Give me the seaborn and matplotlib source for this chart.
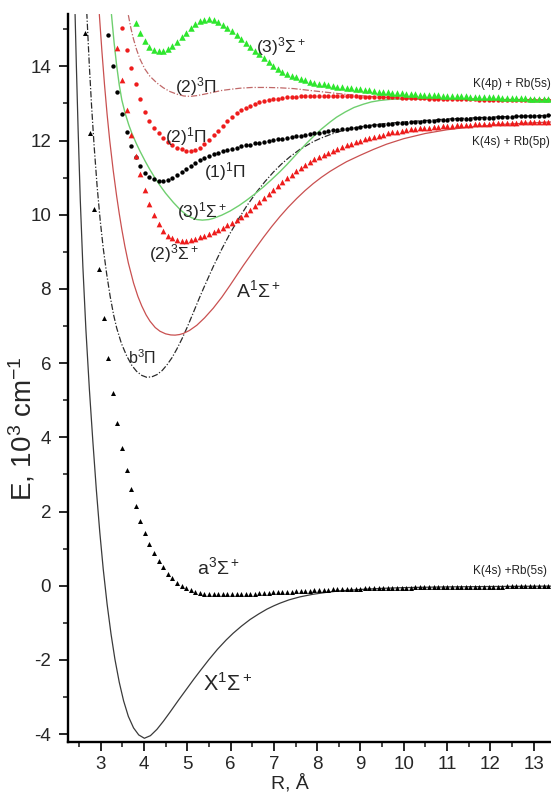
"""
KRb potential energy curves, recreated with seaborn.
Marker series are ab initio points on a 0.2 bohr grid, lines are the fitted curves.
"""
import numpy as np
import matplotlib

matplotlib.use("Agg")
import matplotlib.pyplot as plt
import seaborn as sns

BOHR = 0.529177          # Angstrom per bohr
GRID0_BOHR = 5.0         # first grid point of the marker series
STEP_BOHR = 0.2

# ---- marker series (E in 1e3 cm^-1), first grid index given separately ----
a3sig_k0 = 0
a3sig_E = [
    14.9, 12.2, 10.15, 8.53, 7.21, 6.13, 5.2, 4.4, 3.7, 3.12,
    2.6, 2.15, 1.75, 1.42, 1.12, 0.87, 0.67, 0.5, 0.33, 0.2,
    0.08, -0.01, -0.07, -0.12, -0.16, -0.19, -0.21, -0.22, -0.23, -0.23,
    -0.23, -0.23, -0.23, -0.23, -0.22, -0.22, -0.21, -0.21, -0.2, -0.2,
    -0.19, -0.18, -0.18, -0.17, -0.16, -0.16, -0.15, -0.14, -0.14, -0.13,
    -0.12, -0.12, -0.11, -0.11, -0.1, -0.1, -0.09, -0.09, -0.08, -0.08,
    -0.08, -0.07, -0.07, -0.07, -0.06, -0.06, -0.06, -0.06, -0.05, -0.05,
    -0.05, -0.05, -0.04, -0.04, -0.04, -0.04, -0.04, -0.03, -0.03, -0.03,
    -0.03, -0.03, -0.03, -0.02, -0.02, -0.02, -0.02, -0.02, -0.02, -0.02,
    -0.02, -0.02, -0.01, -0.01, -0.01, -0.01, -0.01, -0.01, -0.01, -0.01,
    -0.01, -0.01,
]

sig3_2_k0 = 7
sig3_2_E = [
    14.48, 13.62, 12.83,
    12.15, 11.58, 11.1, 10.66, 10.3, 10.0, 9.76, 9.57, 9.44, 9.36,
    9.32, 9.3, 9.3, 9.32, 9.35, 9.39, 9.44, 9.48, 9.53, 9.59,
    9.65, 9.71, 9.78, 9.86, 9.94, 10.03, 10.13, 10.23, 10.33, 10.44,
    10.55, 10.66, 10.77, 10.88, 10.98, 11.08, 11.17, 11.26, 11.34, 11.42,
    11.49, 11.55, 11.61, 11.66, 11.71, 11.76, 11.82, 11.87, 11.91, 11.95,
    11.99, 12.03, 12.07, 12.1, 12.13, 12.16, 12.19, 12.22, 12.24, 12.26,
    12.28, 12.3, 12.31, 12.33, 12.34, 12.35, 12.36, 12.37, 12.38, 12.39,
    12.4, 12.41, 12.42, 12.42, 12.43, 12.44, 12.44, 12.45, 12.45, 12.46,
    12.46, 12.47, 12.47, 12.48, 12.48, 12.49, 12.49, 12.5, 12.5, 12.5,
    12.51, 12.51,
]

sig3_3_k0 = 11
sig3_3_E = [
    15.16, 14.89, 14.69, 14.53, 14.45, 14.42, 14.42, 14.46, 14.55,
    14.66, 14.78, 14.9, 15.02, 15.13, 15.21, 15.26, 15.27, 15.25, 15.2,
    15.12, 15.03, 14.94, 14.84, 14.74, 14.63, 14.52, 14.42, 14.32, 14.22,
    14.11, 14.02, 13.94, 13.86, 13.8, 13.75, 13.7, 13.66, 13.62, 13.59,
    13.56, 13.53, 13.51, 13.49, 13.47, 13.45, 13.43, 13.42, 13.41, 13.39,
    13.38, 13.37, 13.35, 13.34, 13.32, 13.31, 13.3, 13.29, 13.28, 13.27,
    13.26, 13.25, 13.25, 13.24, 13.23, 13.23, 13.22, 13.22, 13.21, 13.21,
    13.2, 13.2, 13.19, 13.19, 13.18, 13.18, 13.17, 13.17, 13.16, 13.16,
    13.16, 13.15, 13.15, 13.15, 13.14, 13.14, 13.14, 13.13, 13.13, 13.13,
    13.12, 13.12,
]

pi1_2_k0 = 8
pi1_2_E = [
    15.03, 14.45,
    13.95, 13.52, 13.12, 12.77, 12.52, 12.33, 12.19, 12.07, 11.97, 11.88,
    11.81, 11.76, 11.73, 11.72, 11.74, 11.8, 11.9, 12.02, 12.14, 12.26,
    12.38, 12.52, 12.64, 12.74, 12.82, 12.88, 12.94, 12.99, 13.03, 13.06,
    13.09, 13.11, 13.13, 13.15, 13.16, 13.17, 13.18, 13.19, 13.19, 13.2,
    13.2, 13.2, 13.2, 13.2, 13.2, 13.2, 13.2, 13.19, 13.19, 13.19,
    13.18, 13.18, 13.18, 13.17, 13.17, 13.17, 13.16, 13.16, 13.16, 13.15,
    13.15, 13.15, 13.14, 13.14, 13.14, 13.13, 13.13, 13.13, 13.12, 13.12,
    13.12, 13.12, 13.11, 13.11, 13.11, 13.11, 13.1, 13.1, 13.1, 13.1,
    13.1, 13.09, 13.09, 13.09, 13.09, 13.09, 13.09, 13.09, 13.09, 13.09,
    13.09, 13.09,
]

pi1_1_k0 = 5
pi1_1_E = [
    14.84, 14.02, 13.32, 12.71, 12.23,
    11.85, 11.55, 11.31, 11.13, 11.01, 10.95, 10.92, 10.91, 10.94, 11.0,
    11.07, 11.16, 11.24, 11.32, 11.4, 11.47, 11.53, 11.58, 11.63, 11.67,
    11.71, 11.75, 11.78, 11.81, 11.84, 11.87, 11.89, 11.92, 11.94, 11.96,
    11.99, 12.01, 12.03, 12.05, 12.07, 12.09, 12.11, 12.13, 12.15, 12.17,
    12.19, 12.21, 12.23, 12.25, 12.27, 12.29, 12.31, 12.32, 12.34, 12.35,
    12.37, 12.38, 12.39, 12.41, 12.42, 12.43, 12.44, 12.45, 12.46, 12.47,
    12.48, 12.49, 12.5, 12.51, 12.52, 12.53, 12.53, 12.54, 12.55, 12.56,
    12.57, 12.57, 12.58, 12.59, 12.59, 12.6, 12.61, 12.61, 12.62, 12.62,
    12.63, 12.63, 12.64, 12.64, 12.65, 12.65, 12.66, 12.66, 12.66, 12.67,
    12.67, 12.68,
]

# ---- line curves (R in Angstrom, E in 1e3 cm^-1) ----
X1sig_R = [2.41, 2.44, 2.48, 2.53, 2.59, 2.66, 2.74, 2.82, 2.9, 2.98,
           3.06, 3.15, 3.24, 3.33, 3.43, 3.53, 3.64, 3.76, 3.88, 4.01,
           4.15, 4.3, 4.45, 4.6, 4.8, 5.0, 5.15, 5.3, 5.5, 5.7,
           5.9, 6.06, 6.25, 6.45, 6.65, 6.84, 7.0, 7.14, 7.35, 7.6,
           7.9, 8.2, 8.5, 9.0, 9.5, 10.0, 11.0, 12.0, 13.4]
X1sig_E = [15.4, 14.0, 12.3, 10.4, 8.6, 6.9, 5.3, 3.9, 2.6, 1.45,
           0.45, -0.5, -1.3, -1.98, -2.6, -3.1, -3.52, -3.83, -4.02, -4.11,
           -4.04, -3.87, -3.65, -3.41, -3.08, -2.76, -2.52, -2.29, -1.99, -1.71,
           -1.46, -1.28, -1.09, -0.91, -0.76, -0.63, -0.54, -0.47, -0.38, -0.3,
           -0.23, -0.18, -0.14, -0.1, -0.07, -0.05, -0.03, -0.02, -0.01]

b3pi_R = [2.68, 2.74, 2.79, 2.85, 2.92, 2.99, 3.06, 3.14, 3.22, 3.3,
          3.37, 3.48, 3.6, 3.72, 3.83, 3.95, 4.06, 4.18, 4.3, 4.42,
          4.53, 4.65, 4.76, 4.88, 5.0, 5.14, 5.26, 5.37, 5.5, 5.6,
          5.8, 5.99, 6.18, 6.37, 6.6, 6.8, 6.99, 7.18, 7.37, 7.6,
          7.91, 8.1, 8.3, 8.45, 8.7, 9.0, 9.5, 10.0, 11.0, 12.0, 13.4]
b3pi_E = [15.45, 14.0, 12.95, 11.85, 10.75, 9.85, 9.1, 8.4, 7.8, 7.3,
          6.95, 6.53, 6.2, 5.94, 5.78, 5.67, 5.62, 5.63, 5.69, 5.8,
          5.95, 6.15, 6.38, 6.66, 6.97, 7.36, 7.7, 8.0, 8.34, 8.6,
          9.08, 9.5, 9.88, 10.23, 10.61, 10.9, 11.15, 11.37, 11.56, 11.76,
          11.97, 12.07, 12.16, 12.22, 12.3, 12.37, 12.45, 12.5, 12.58, 12.63, 12.68]

A1sig_R = [2.97, 3.03, 3.09, 3.15, 3.21, 3.29, 3.37, 3.43, 3.49, 3.56,
           3.64, 3.76, 3.86, 3.95, 4.05, 4.14, 4.26, 4.37, 4.5, 4.62,
           4.72, 4.82, 4.91, 5.05, 5.22, 5.4, 5.6, 5.8, 5.99, 6.15,
           6.3, 6.53, 6.76, 6.95, 7.14, 7.33, 7.53, 7.72, 7.91, 8.1,
           8.3, 8.5, 8.68, 8.99, 9.3, 9.6, 10.0, 10.5, 11.0, 11.5,
           12.2, 13.4]
A1sig_E = [15.4, 14.4, 13.5, 12.7, 12.0, 11.2, 10.5, 10.03, 9.6, 9.15,
           8.7, 8.16, 7.8, 7.54, 7.3, 7.13, 6.96, 6.86, 6.79, 6.76,
           6.755, 6.77, 6.8, 6.88, 7.02, 7.22, 7.48, 7.78, 8.1, 8.38,
           8.64, 9.02, 9.39, 9.68, 9.95, 10.2, 10.44, 10.65, 10.84, 11.01,
           11.17, 11.31, 11.43, 11.6, 11.76, 11.9, 12.05, 12.19, 12.29, 12.36,
           12.43, 12.5]

sig1_3_R = [3.25, 3.31, 3.37, 3.43, 3.49, 3.57, 3.65, 3.72, 3.82, 3.91,
            4.03, 4.14, 4.25, 4.37, 4.5, 4.68, 4.85, 4.99, 5.1, 5.22,
            5.35, 5.5, 5.6, 5.8, 5.99, 6.2, 6.37, 6.55, 6.76, 6.95,
            7.14, 7.3, 7.45, 7.6, 7.76, 7.95, 8.1, 8.3, 8.45, 8.65,
            8.85, 9.07, 9.25, 9.45, 9.7, 10.0, 11.0, 12.0, 13.4]
sig1_3_E = [15.4, 14.65, 14.02, 13.5, 13.09, 12.72, 12.42, 12.2, 11.93, 11.71,
            11.44, 11.21, 11.0, 10.79, 10.58, 10.33, 10.12, 9.99, 9.92, 9.87,
            9.855, 9.87, 9.9, 9.99, 10.1, 10.25, 10.39, 10.55, 10.75, 10.95,
            11.16, 11.35, 11.54, 11.73, 11.93, 12.15, 12.31, 12.5, 12.63, 12.77,
            12.89, 12.98, 13.04, 13.08, 13.11, 13.12, 13.11, 13.1, 13.09]

pi3_2_R = [3.64, 3.7, 3.76, 3.83, 3.91, 4.02, 4.14, 4.3, 4.45, 4.6,
           4.76, 4.92, 5.07, 5.22, 5.4, 5.6, 5.8, 6.0, 6.22, 6.5,
           6.84, 7.15, 7.45, 7.68, 7.9, 8.14, 8.45, 8.7, 8.91, 9.2,
           9.45, 9.8, 10.3, 11.0, 12.0, 13.4]
pi3_2_E = [15.38, 15.02, 14.73, 14.45, 14.19, 13.93, 13.73, 13.55, 13.42, 13.32,
           13.25, 13.2, 13.19, 13.21, 13.25, 13.3, 13.35, 13.38, 13.41, 13.43,
           13.43, 13.42, 13.4, 13.37, 13.34, 13.31, 13.27, 13.24, 13.22, 13.19,
           13.17, 13.15, 13.13, 13.12, 13.11, 13.1]

# ---- state labels: text, R, E, size ----
state_labels = [
    ("(3)$^3$Σ$^+$", 6.59, 14.52, 12.5),
    ("(2)$^3$Π", 4.72, 13.46, 12.5),
    ("(2)$^1$Π", 4.49, 12.12, 12.5),
    ("(1)$^1$Π", 5.39, 11.16, 12.5),
    ("(3)$^1$Σ$^+$", 4.76, 10.09, 12.5),
    ("(2)$^3$Σ$^+$", 4.12, 8.95, 12.5),
    ("A$^1$Σ$^+$", 6.13, 7.96, 14),
    ("b$^3$Π", 3.63, 6.16, 11.5),
    ("a$^3$Σ$^+$", 5.22, 0.50, 14),
    ("X$^1$Σ$^+$", 5.37, -2.65, 15.5),
]
asym_labels = [
    ("K(4p) + Rb(5s)", 11.60, 13.52),
    ("K(4s) + Rb(5p)", 11.57, 11.95),
    ("K(4s) +Rb(5s)", 11.60, 0.41),
]


def grid_R(k0, values):
    k = k0 + np.arange(len(values))
    return (GRID0_BOHR + STEP_BOHR * k) * BOHR


sns.set_style("ticks")
plt.rcParams["font.family"] = ["Liberation Sans", "DejaVu Sans"]
plt.rcParams["mathtext.fontset"] = "custom"
plt.rcParams["mathtext.rm"] = "Liberation Sans"
plt.rcParams["mathtext.it"] = "Liberation Sans:italic"
plt.rcParams["axes.unicode_minus"] = False

fig = plt.figure(figsize=(5.51, 7.95), dpi=100)
ax = fig.add_axes([0.1229, 0.0667, 0.8771, 0.9157])

# thin curves
curves = [
    (X1sig_R, X1sig_E, "#3a3a3a", "-", 0.9),
    (b3pi_R, b3pi_E, "#2a2a2a", (0, (5, 1.5, 1, 1.5)), 0.9),
    (A1sig_R, A1sig_E, "#c95050", "-", 0.9),
    (sig1_3_R, sig1_3_E, "#6fcf6f", "-", 1.0),
    (pi3_2_R, pi3_2_E, "#c06868", (0, (5, 1.5, 1, 1.5)), 0.9),
]
for R, E, col, ls, lw in curves:
    sns.lineplot(x=R, y=E, ax=ax, sort=False, estimator=None,
                 color=col, linestyle=ls, linewidth=lw, zorder=2)

# computed points
points = [
    (a3sig_k0, a3sig_E, "^", "black", 13),
    (pi1_1_k0, pi1_1_E, "o", "black", 10),
    (sig3_2_k0, sig3_2_E, "^", "#ee1c1c", 17),
    (pi1_2_k0, pi1_2_E, "o", "#ee1c1c", 10),
    (sig3_3_k0, sig3_3_E, "^", "#2ee62e", 22),
]
for k0, E, mk, col, s in points:
    sns.scatterplot(x=grid_R(k0, E), y=E, ax=ax, marker=mk, s=s,
                    color=col, linewidth=0, zorder=3)

for txt, r, e, fs in state_labels:
    ax.text(r, e, txt, fontsize=fs, ha="left", va="center", zorder=4)
for txt, r, e in asym_labels:
    ax.text(r, e, txt, fontsize=8.5, ha="left", va="center", color="#222222", zorder=4)

ax.set_xlim(2.24, 13.40)
ax.set_ylim(-4.21, 15.41)
ax.set_xticks(range(3, 14))
ax.set_xticks(np.arange(2.5, 13.5, 1.0), minor=True)
ax.set_yticks(range(-4, 15, 2))
ax.set_yticks(range(-3, 16, 2), minor=True)
ax.tick_params(which="major", direction="out", length=6.5, width=1.4,
               labelsize=13.5)
ax.tick_params(which="minor", direction="out", length=3.6, width=1.2)
ax.tick_params(axis="y", which="major", pad=5.5)
ax.tick_params(axis="x", which="major", pad=3.5)

ax.set_xlabel("R, Å", fontsize=14)
ax.set_ylabel("E, 10$^3$ cm$^{-1}$", fontsize=20)
ax.xaxis.set_label_coords(0.459, -0.0445)
ax.yaxis.set_label_coords(-0.062, 0.43)

sns.despine(ax=ax)
for side in ("left", "bottom"):
    ax.spines[side].set_linewidth(1.7)
    ax.spines[side].set_color("black")
ax.grid(False)

fig.savefig("out.png", dpi=100)
plt.close(fig)
